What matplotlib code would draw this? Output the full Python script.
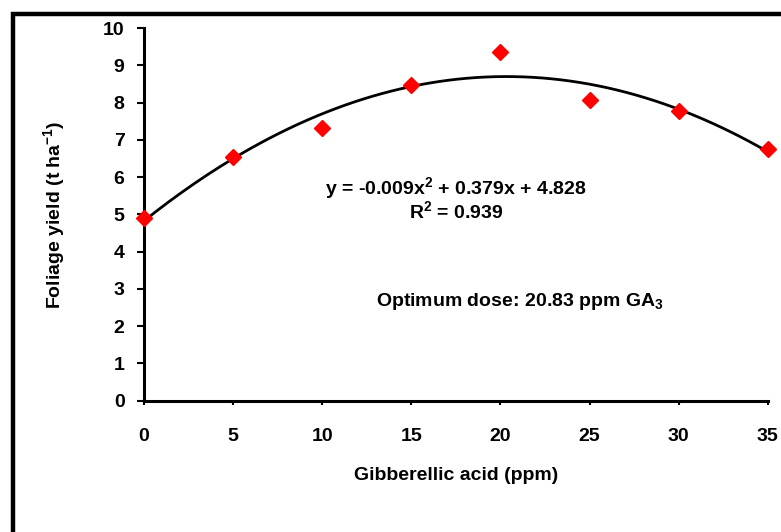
"""
Foliage yield response to gibberellic acid dose, with quadratic trendline.
"""

import matplotlib.pyplot as plt
import numpy as np
from matplotlib.patches import Rectangle

plt.rcParams["font.family"] = ["Liberation Sans", "DejaVu Sans"]
plt.rcParams["font.weight"] = "bold"
plt.rcParams["mathtext.fontset"] = "custom"
plt.rcParams["mathtext.rm"] = "Liberation Sans:bold"
plt.rcParams["mathtext.it"] = "Liberation Sans:bold"
plt.rcParams["mathtext.bf"] = "Liberation Sans:bold"

GA_DOSE = [0, 5, 10, 15, 20, 25, 30, 35]
FOLIAGE_YIELD = [4.90, 6.53, 7.31, 8.47, 9.35, 8.06, 7.77, 6.75]
X_TICKS = [0, 5, 10, 15, 20, 25, 30, 35]
Y_TICKS = [0, 1, 2, 3, 4, 5, 6, 7, 8, 9, 10]

EQ_TEXT = "y = -0.009x$^{2}$ + 0.379x + 4.828"
R2_TEXT = "R$^{2}$ = 0.939"
OPT_TEXT = "Optimum dose: 20.83 ppm GA$_{3}$"

FS = 14


def main():
    fig = plt.figure(figsize=(7.81, 5.32), dpi=100)
    ax = fig.add_axes([0.1844, 0.247, 0.7986, 0.7003])

    # outer frame (cut off on the right and bottom like the source image)
    fig.patches.append(Rectangle((12.5 / 781, -0.2), 1.2, 1.2 - 13.5 / 532,
                                 transform=fig.transFigure, fill=False,
                                 edgecolor="black", linewidth=3.2))

    # quadratic trendline fitted to the points
    coef = np.polyfit(GA_DOSE, FOLIAGE_YIELD, 2)
    xs = np.linspace(0, 35, 200)
    ax.plot(xs, np.polyval(coef, xs), color="black", linewidth=2, zorder=2)

    ax.plot(GA_DOSE, FOLIAGE_YIELD, linestyle="none", marker="D",
            markersize=8, color="#ff0000", zorder=3, clip_on=False)

    ax.set_xlim(0, 35)
    ax.set_ylim(0, 10)
    ax.set_xticks(X_TICKS)
    ax.set_yticks(Y_TICKS)
    for side in ["top", "right"]:
        ax.spines[side].set_visible(False)
    for side in ["left", "bottom"]:
        ax.spines[side].set_linewidth(2.2)
    ax.tick_params(axis="y", length=5, width=1.5, pad=9, labelsize=FS)
    ax.tick_params(axis="x", length=3, width=1.5, pad=17, labelsize=FS)

    ax.set_xlabel("Gibberellic acid (ppm)", fontsize=FS, fontweight="bold")
    ax.xaxis.set_label_coords(0.5, -0.178)
    ax.set_ylabel("Foliage yield (t ha$^{-1}$)", fontsize=FS, fontweight="bold")
    ax.yaxis.set_label_coords(-0.123, 0.5)

    ax.text(17.5, 5.71, EQ_TEXT, ha="center", va="center", fontsize=FS,
            fontweight="bold")
    ax.text(17.5, 5.09, R2_TEXT, ha="center", va="center", fontsize=FS,
            fontweight="bold")
    ax.text(21.1, 2.67, OPT_TEXT, ha="center", va="center", fontsize=FS,
            fontweight="bold")

    fig.savefig("out.png", dpi=100)
    plt.close(fig)


if __name__ == "__main__":
    main()
